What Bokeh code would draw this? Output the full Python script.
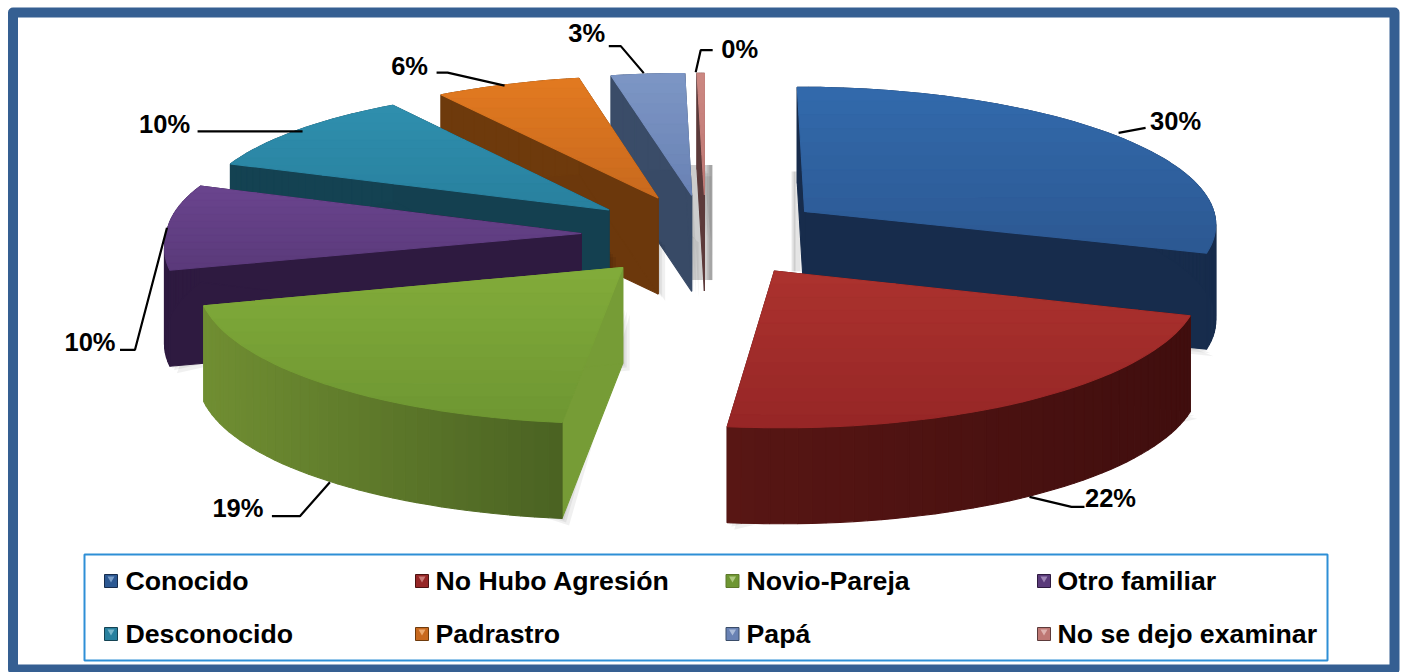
import math
from bokeh.embed import file_html
from bokeh.models import Range1d
from bokeh.plotting import figure
from bokeh.resources import INLINE

# ---- data
categories = ["Conocido", "No Hubo Agresión", "Novio-Pareja", "Otro familiar",
              "Desconocido", "Padrastro", "Papá", "No se dejo examinar"]
values = [30, 22, 19, 10, 10, 6, 3, 0.3]
legend_rows = [[0, 1, 2, 3], [4, 5, 6, 7]]

# ---- style: (top light, top dark, wall left, wall right, side)
STYLE = [
    ((50, 106, 172), (44, 88, 146), (23, 44, 76), (23, 44, 76), (23, 44, 76)),
    ((172, 50, 46), (150, 38, 38), (88, 22, 20), (64, 14, 14), (74, 16, 15)),
    ((130, 172, 58), (110, 150, 50), (112, 142, 50), (74, 98, 34), (118, 156, 54)),
    ((106, 68, 142), (90, 58, 122), (46, 26, 64), (46, 26, 64), (46, 26, 64)),
    ((47, 143, 174), (40, 128, 158), (20, 66, 82), (20, 66, 82), (20, 64, 80)),
    ((226, 122, 32), (200, 105, 30), (110, 58, 12), (110, 58, 12), (108, 56, 12)),
    ((125, 150, 197), (105, 130, 180), (58, 76, 104), (58, 76, 104), (56, 74, 102)),
    ((204, 136, 130), (190, 120, 116), (92, 58, 58), (92, 58, 58), (92, 58, 58)),
]
FRAME = "#355f92"
BOX = "#2e8fd6"
FONT = "Liberation Sans"

# ---- projection of the tilted pie
CX, CY = 705, 235
RX_R, RX_L, RY = 415, 415, 138
PERSP = 0.081
PERSP_BACK_LEFT = 0.04
EXPLODE = 0.30
DEPTH = 96
W, H = 1400, 672


def project(u, v):
    s = 1 / (1 - PERSP * v)
    sx = 1 / (1 - PERSP_BACK_LEFT * v) if (u < 0 and v < 0) else s
    return CX + (RX_R if u > 0 else RX_L) * u * sx, CY + RY * v * s


def hex_of(c):
    return "#%02x%02x%02x" % tuple(int(round(k)) for k in c)


def mix(a, b, t):
    t = max(0.0, min(1.0, t))
    return [a[i] + (b[i] - a[i]) * t for i in range(3)]


def clip_band(poly, y0, y1):
    def clip(pts, keep, cross):
        out = []
        for i, p in enumerate(pts):
            q = pts[(i + 1) % len(pts)]
            if keep(p):
                out.append(p)
            if keep(p) != keep(q):
                t = (cross - p[1]) / (q[1] - p[1])
                out.append((p[0] + (q[0] - p[0]) * t, cross))
        return out
    r = clip(poly, lambda a: a[1] >= y0, y0)
    return clip(r, lambda a: a[1] <= y1, y1) if r else r


total = sum(values)
slices = []
acc = 0.0
for val in values:
    t0 = acc / total * 2 * math.pi
    acc += val
    t1 = acc / total * 2 * math.pi
    mid = (t0 + t1) / 2
    eu, ev = EXPLODE * math.sin(mid), -EXPLODE * math.cos(mid)
    n = max(3, int((t1 - t0) / 0.03))
    rim = []
    for k in range(n + 1):
        t = t0 + (t1 - t0) * k / n
        rim.append(project(eu + math.sin(t), ev - math.cos(t)))
    apex = project(eu, ev)
    anchor = project(eu + math.sin(mid), ev - math.cos(mid))
    slices.append(dict(apex=apex, rim=rim, anchor=anchor))

p = figure(width=W, height=H, x_range=Range1d(0, W), y_range=Range1d(H, 0),
           output_backend="svg", toolbar_location=None, min_border=0,
           margin=0, background_fill_color="white",
           border_fill_color="white", outline_line_color=None)
p.axis.visible = False
p.grid.visible = False

# frame
p.quad(left=[12.5], right=[1394], top=[12], bottom=[669], fill_color="white",
       line_color=FRAME, line_width=10, line_join="round")


def poly(points, color, alpha=1.0):
    p.patch([a[0] for a in points], [a[1] for a in points], fill_color=color,
            line_color=color if alpha == 1.0 else None, line_width=1.1,
            fill_alpha=alpha)


def down(a):
    return (a[0], a[1] + DEPTH)


# soft cast shadows beside the two inner edges: (slice, x offsets, y offsets from its apex)
SHADE_STRIPS = [
    (0, [(-13, -9), (-11, -9), (-9, -4)], (-40, 60)),
    (7, [(-14, 8), (-14, 8), (3, 8), (5, 8)], (-30, 85)),
]
for idx, spans, (ya, yb) in SHADE_STRIPS:
    ax0, ay0 = slices[idx]["apex"]
    for xa, xb in spans:
        poly([(ax0 + xa, ay0 + ya), (ax0 + xb, ay0 + ya), (ax0 + xb, ay0 + yb), (ax0 + xa, ay0 + yb)],
             "#000000", 0.1)

for idx in [7, 6, 5, 4, 3, 2, 0, 1]:
    s = slices[idx]
    st = STYLE[idx]
    apex, rim = s["apex"], s["rim"]
    # soft shadow
    for off in (7, 4, 2):
        poly([(a[0] + off, a[1] + off) for a in [down(rim[0]), down(rim[-1]), down(apex)]]
             + [(apex[0] + off, apex[1] + off + 40)], "#000000", 0.06)
    # radial walls
    poly([apex, rim[0], down(rim[0]), down(apex)], hex_of(st[4]))
    poly([apex, rim[-1], down(rim[-1]), down(apex)], hex_of(st[4]))
    # outer wall
    xs = [a[0] for a in rim]
    lo, hi = min(xs), max(xs)
    for a, b in zip(rim[:-1], rim[1:]):
        tt = ((a[0] + b[0]) / 2 - lo) / (hi - lo) if hi > lo else 0
        poly([a, b, down(b), down(a)], hex_of(mix(st[2], st[3], tt)))
    # top face with a vertical shading
    top = [apex] + rim
    ys = [a[1] for a in top]
    ymin, ymax = min(ys), max(ys)
    bands = 12
    for b in range(bands):
        y0 = ymin + (ymax - ymin) * b / bands
        y1 = ymin + (ymax - ymin) * (b + 1) / bands
        part = clip_band(top, y0, y1)
        if len(part) >= 3:
            poly(part, hex_of(mix(st[0], st[1], (b + 0.5) / bands)))

# leaders: offsets from the rim anchor (line points, then the label centre)
LEADERS = [
    ([(3, -3), (30, -8)], (60, -15), 0),
    ([(3, 0), (45, 10), (58, 10)], (84, 1), DEPTH),
    ([(7, 3), (-23, 37), (-51, 37)], (-85, 29), DEPTH),
    ([(-1, 1), (-33, 123), (-48, 123)], (-78, 115), 0),
    ([(5, 1), (-100, 1)], (-133, -6), 0),
    ([(-3, 1), (-60, -12), (-71, -12)], (-98, -19), 0),
    ([(-4, -1), (-27, -28), (-39, -28)], (-61, -41), 0),
    ([(-5, -1), (0, -23), (12, -23)], (39, -24), 0),
]
for s, val, (pts, lab, drop) in zip(slices, values, LEADERS):
    ax, ay = s["anchor"]
    ay += drop
    p.line([ax + q[0] for q in pts], [ay + q[1] for q in pts],
           line_color="black", line_width=2.2)
    p.text([ax + lab[0]], [ay + lab[1]], text=["%d%%" % round(val)],
           text_font={"value": FONT}, text_font_style="bold", text_font_size="25.5px",
           text_align="center", text_baseline="middle", text_color="black")

# legend
p.quad(left=[84], right=[1327], top=[554], bottom=[660], fill_color="white",
       line_color=BOX, line_width=2)
COLS = [(110.5, 125), (421.5, 435), (732, 746), (1043.5, 1057)]
ROWS = [580.5, 633.5]
for row, ypos in zip(legend_rows, ROWS):
    for idx, (sx, tx) in zip(row, COLS):
        p.scatter([sx], [ypos], marker="square", size=13,
                  fill_color=hex_of(STYLE[idx][1]), line_color=hex_of(mix(STYLE[idx][2], STYLE[idx][3], .5)))
        p.scatter([sx], [ypos - 2.5], marker="inverted_triangle", size=7,
                  fill_color=hex_of(mix(STYLE[idx][0], (255, 255, 255), .35)), line_color=None)
        p.text([tx], [ypos], text=[categories[idx]], text_font={"value": FONT},
               text_font_style="bold", text_font_size="26.7px", text_align="left",
               text_baseline="middle", text_color="black")

open("out.html", "w").write(file_html(p, INLINE))
